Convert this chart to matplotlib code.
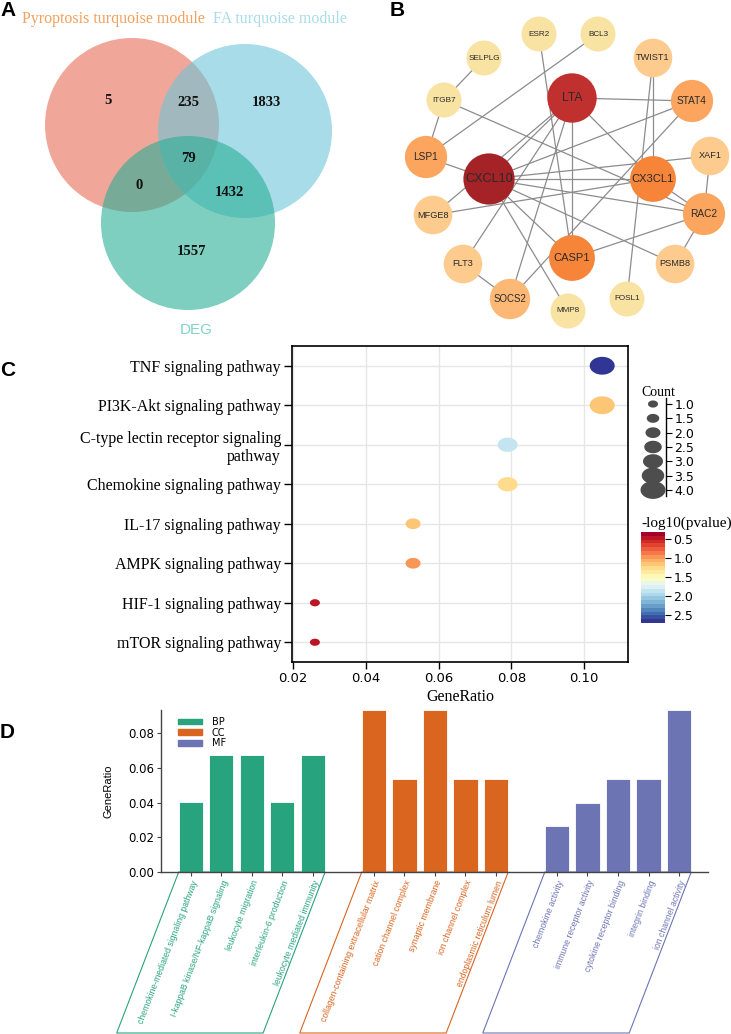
import numpy as np
import matplotlib
matplotlib.use('Agg')
import matplotlib.pyplot as plt
from matplotlib.patches import Circle, Polygon, Patch
from matplotlib.path import Path
from matplotlib.colors import LinearSegmentedColormap, Normalize
import matplotlib.cm as cm

W, H = 731, 1034
fig = plt.figure(figsize=(W / 100, H / 100), dpi=100)
SERIF = 'Liberation Serif'
SANS = 'Liberation Sans'


def px_axes(x0, y0, x1, y1):
    # axes placed by pixel box (top-left origin)
    return fig.add_axes([x0 / W, 1 - y1 / H, (x1 - x0) / W, (y1 - y0) / H])


# ---------------- data ----------------
# A: venn
venn_sets = ['Pyroptosis turquoise module', 'FA turquoise module', 'DEG']
venn_regions = ['100', '110', '010', '111', '101', '011', '001']
venn_counts = [5, 235, 1833, 79, 0, 1432, 1557]

# B: PPI network
genes = ['LTA', 'CXCL10', 'CX3CL1', 'CASP1', 'STAT4', 'RAC2', 'LSP1', 'SOCS2',
         'TWIST1', 'XAF1', 'MFGE8', 'FLT3', 'PSMB8', 'ESR2', 'BCL3', 'SELPLG',
         'ITGB7', 'MMP8', 'FOSL1']
gene_score = [9, 10, 7, 7, 5, 5, 5, 4, 3, 3, 3, 3, 3, 1, 1, 1, 1, 1, 1]
edges = [('SELPLG', 'ITGB7'), ('ITGB7', 'LSP1'), ('ITGB7', 'RAC2'), ('BCL3', 'LSP1'),
         ('ESR2', 'CASP1'), ('LTA', 'STAT4'), ('LTA', 'CX3CL1'), ('LTA', 'CASP1'),
         ('LTA', 'CXCL10'), ('LTA', 'MFGE8'), ('LTA', 'FLT3'), ('LTA', 'SOCS2'),
         ('TWIST1', 'CX3CL1'), ('TWIST1', 'FOSL1'), ('STAT4', 'CXCL10'), ('STAT4', 'SOCS2'),
         ('XAF1', 'CXCL10'), ('XAF1', 'RAC2'), ('CXCL10', 'CX3CL1'), ('CXCL10', 'RAC2'),
         ('CX3CL1', 'RAC2'), ('CXCL10', 'PSMB8'), ('CXCL10', 'CASP1'), ('CXCL10', 'MMP8'),
         ('MFGE8', 'CX3CL1'), ('LSP1', 'CXCL10'), ('RAC2', 'CASP1'), ('RAC2', 'PSMB8'),
         ('FLT3', 'SOCS2')]

# C: KEGG dot plot
pathways = ['TNF signaling pathway', 'PI3K-Akt signaling pathway',
            'C-type lectin receptor signaling\npathway', 'Chemokine signaling pathway',
            'IL-17 signaling pathway', 'AMPK signaling pathway',
            'HIF-1 signaling pathway', 'mTOR signaling pathway']
kegg_ratio = [0.105, 0.105, 0.079, 0.079, 0.053, 0.053, 0.026, 0.026]
kegg_count = [4, 4, 3, 3, 2, 2, 1, 1]
kegg_logp = [2.65, 1.2, 1.9, 1.3, 1.15, 0.95, 0.42, 0.42]

# D: GO bars
go_terms = ['chemokine-mediated signaling pathway', 'I-kappaB kinase/NF-kappaB signaling',
            'leukocyte migration', 'interleukin-6 production', 'leukocyte mediated immunity',
            'collagen-containing extracellular matrix', 'cation channel complex',
            'synaptic membrane', 'ion channel complex', 'endoplasmic reticulum lumen',
            'chemokine activity', 'immune receptor activity', 'cytokine receptor binding',
            'integrin binding', 'ion channel activity']
go_group = ['BP'] * 5 + ['CC'] * 5 + ['MF'] * 5
go_ratio = [0.0405, 0.0676, 0.0676, 0.0405, 0.0676,
            0.0933, 0.0533, 0.0933, 0.0533, 0.0533,
            0.0267, 0.0400, 0.0533, 0.0533, 0.0933]

# ---------------- A: venn ----------------
axA = px_axes(0, 0, 365, 345)
axA.set_xlim(0, 365)
axA.set_ylim(345, 0)
axA.axis('off')
circ_xy = [(132, 125), (245, 131), (188, 223)]
circ_col = ['#E86B57', '#6EC5D9', '#28AF96']
for (cx, cy), c in zip(circ_xy, circ_col):
    axA.add_patch(Circle((cx, cy), 87, facecolor=c, alpha=0.6, edgecolor='none'))
count_xy = [(108, 101), (188, 103), (266, 102), (188, 158), (139, 185), (229, 192), (192, 251)]
for (x, y), n in zip(count_xy, venn_counts):
    axA.text(x, y, str(n), ha='center', va='center', fontsize=10.5,
             family=SERIF, weight='bold', color='#111111')
axA.text(113, 19, venn_sets[0], ha='center', va='center', fontsize=11.5,
         family=SERIF, color='#F4A05E')
axA.text(280, 19, venn_sets[1], ha='center', va='center', fontsize=11.5,
         family=SERIF, color='#A8DCE8')
axA.text(196, 330, venn_sets[2], ha='center', va='center', fontsize=11,
         family=SANS, color='#7FD3C8')

# ---------------- B: network ----------------
axB = px_axes(365, 0, 731, 330)
axB.set_xlim(365, 731)
axB.set_ylim(330, 0)
axB.axis('off')
node_x = [572, 489, 653, 572, 692, 704, 426, 510, 653, 710, 433, 463, 675, 539, 598, 484, 444, 568, 627]
node_y = [98, 179, 179, 258, 101, 214, 157, 299, 58, 156, 215, 264, 264, 34, 34, 58, 100, 311, 299]
pos = {g: (x, y) for g, x, y in zip(genes, node_x, node_y)}
node_cmap = LinearSegmentedColormap.from_list(
    'net', [(0, '#F8E3A3'), (2 / 9, '#FDCB8D'), (4 / 9, '#FCA55F'),
            (6 / 9, '#F6853A'), (8 / 9, '#C0302E'), (1, '#A52326')])
for a, b in edges:
    axB.plot([pos[a][0], pos[b][0]], [pos[a][1], pos[b][1]], color='#8C8C8C', lw=0.9, zorder=1)
for g, s in zip(genes, gene_score):
    r = 17.5 + 0.9 * (s - 1)
    axB.add_patch(Circle(pos[g], r, facecolor=node_cmap((s - 1) / 9), edgecolor='none', zorder=2))
    axB.text(pos[g][0], pos[g][1], g, ha='center', va='center', fontsize=5.9 + 0.36 * (s - 1),
             family=SANS, color='#2A2A2A', zorder=3)

# ---------------- C: KEGG dot plot ----------------
axC = px_axes(292, 346, 628, 662)
ypos = np.arange(len(pathways))
t = np.linspace(0, 2 * np.pi, 80)
ell = Path(np.column_stack([1.4 * np.cos(t), np.sin(t)]), closed=True)
vmin, vmax = 0.32, 2.7
pcmap = plt.get_cmap('RdYlBu', 24)
pnorm = Normalize(vmin, vmax)
sizes = [(3.6 * (c + 1)) ** 2 for c in kegg_count]
axC.scatter(kegg_ratio, ypos, s=sizes, c=kegg_logp, cmap=pcmap, norm=pnorm,
            marker=ell, linewidths=0, zorder=3)
axC.set_ylim(len(pathways) - 0.5, -0.5)
axC.set_xlim(0.0197, 0.1121)
axC.set_yticks(ypos)
axC.set_yticklabels(pathways, family=SERIF, fontsize=11.5)
axC.set_xticks([0.02, 0.04, 0.06, 0.08, 0.10])
axC.set_xticklabels(['0.02', '0.04', '0.06', '0.08', '0.10'], fontsize=9.5)
axC.grid(True, color='#E6E6E6', lw=1, zorder=0)
axC.set_axisbelow(True)
for sp in axC.spines.values():
    sp.set_linewidth(1.2)
axC.tick_params(axis='y', length=6, width=1, pad=2)
axC.tick_params(axis='x', length=5, width=1, pad=2)
axC.set_xlabel('GeneRatio', family=SERIF, fontsize=11.5, labelpad=3)

# count legend
axL = px_axes(640, 398, 666, 496)
lvals = np.arange(1.0, 4.01, 0.5)
axL.scatter(np.full(len(lvals), 0.5), lvals, s=[(3.6 * (v + 1)) ** 2 for v in lvals],
            color='#4D4D4D', marker=ell, linewidths=0, clip_on=False)
axL.set_xlim(0, 1)
axL.set_ylim(4.21, 0.79)
for k in ['left', 'top', 'bottom']:
    axL.spines[k].set_visible(False)
axL.spines['right'].set_linewidth(1)
axL.set_xticks([])
axL.yaxis.tick_right()
axL.set_yticks(lvals)
axL.set_yticklabels(['%.1f' % v for v in lvals], fontsize=9)
axL.tick_params(axis='y', length=4, pad=2)
axL.patch.set_visible(False)
fig.text(641 / W, 1 - 393 / H, 'Count', family=SERIF, fontsize=10, va='center', ha='left')

# colorbar
cax = px_axes(641, 532, 665, 623)
cb = fig.colorbar(cm.ScalarMappable(norm=pnorm, cmap=pcmap), cax=cax)
cax.invert_yaxis()
cb.outline.set_visible(False)
cb.set_ticks([0.5, 1.0, 1.5, 2.0, 2.5])
cax.tick_params(length=4, pad=2, labelsize=9)
fig.text(641 / W, 1 - 523 / H, '-log10(pvalue)', family=SERIF, fontsize=11, va='center', ha='left')

# ---------------- D: GO bars ----------------
axD = px_axes(161, 710, 708, 872)
grp_col = {'BP': '#27A47D', 'CC': '#D9651F', 'MF': '#6C74B4'}
xpos = []
i = 0
prev = go_group[0]
for g in go_group:
    if g != prev:
        i += 1
        prev = g
    xpos.append(i)
    i += 1
xpos = np.array(xpos)
axD.bar(xpos, go_ratio, width=0.79, color=[grp_col[g] for g in go_group],
        edgecolor='white', linewidth=0.6)
axD.set_xlim(-0.98, 16.95)
axD.set_ylim(0, 0.0933)
for k in ['top', 'right']:
    axD.spines[k].set_visible(False)
for k in ['left', 'bottom']:
    axD.spines[k].set_color('#444444')
    axD.spines[k].set_linewidth(1)
axD.set_yticks([0, 0.02, 0.04, 0.06, 0.08])
axD.set_yticklabels(['0.00', '0.02', '0.04', '0.06', '0.08'], fontsize=8.5)
axD.tick_params(axis='both', length=3, color='#444444', pad=2)
axD.set_xticks(xpos)
axD.set_xticklabels(go_terms, rotation=69, ha='right', va='top',
                    rotation_mode='anchor', fontsize=6.2, family=SANS)
for lab, g in zip(axD.get_xticklabels(), go_group):
    lab.set_color(grp_col[g])
axD.set_ylabel('GeneRatio', family=SANS, fontsize=8)
axD.yaxis.set_label_coords((113 - 161) / 547, 0.5)
axD.legend(handles=[Patch(color=grp_col[g]) for g in ['BP', 'CC', 'MF']],
           labels=['BP', 'CC', 'MF'], loc='upper left', bbox_to_anchor=(0.018, 1.0),
           frameon=False, fontsize=7, handlelength=2.5, handleheight=0.5,
           labelspacing=0.08, handletextpad=1.0, borderpad=0.2)

# parallelogram frames around each group's labels
trans = axD.get_xaxis_transform()
slant = -62 / 30.5
ybot = -(1033 - 872) / 162
for g in ['BP', 'CC', 'MF']:
    xs = xpos[np.array(go_group) == g]
    l, r = xs.min() - 0.4, xs.max() + 0.4
    axD.add_patch(Polygon([(l, 0), (r, 0), (r + slant, ybot), (l + slant, ybot)],
                          closed=True, fill=False, edgecolor=grp_col[g], lw=0.8,
                          transform=trans, clip_on=False))

# panel letters
for letter, x, y in [('A', 0, 11), ('B', 390, 10), ('C', 0, 370), ('D', 0, 732)]:
    fig.text(x / W, 1 - y / H, letter, family=SANS, weight='bold', fontsize=15,
             ha='left', va='center')

fig.savefig('out.png', dpi=100)
